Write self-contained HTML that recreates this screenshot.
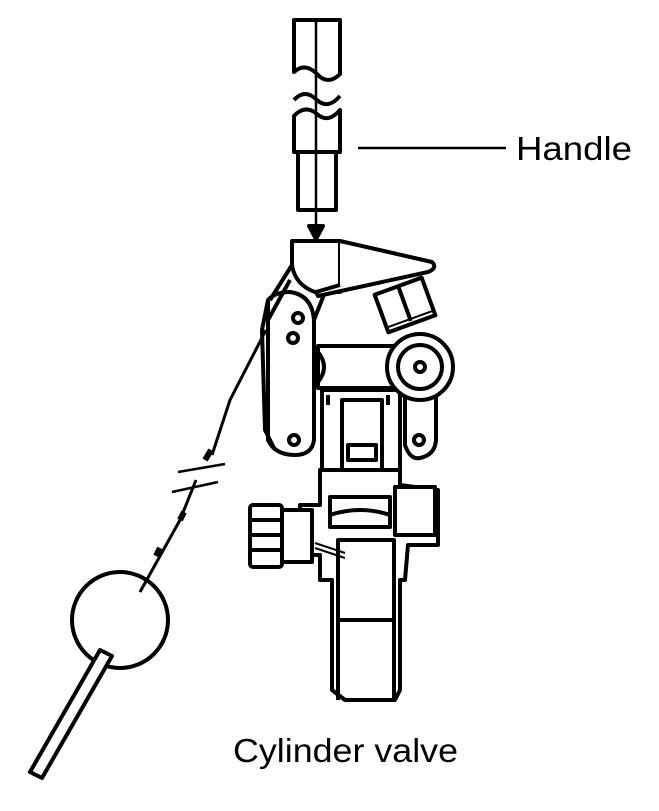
<!DOCTYPE html>
<html><head><style>
html,body{margin:0;padding:0;background:#fff;}
svg{display:block;}
text{font-family:"Liberation Sans",sans-serif;}
</style></head><body>
<svg width="659" height="811" viewBox="0 0 659 811" xmlns="http://www.w3.org/2000/svg">
<g fill="none" stroke="#000" stroke-width="4" stroke-linejoin="round">
<!-- handle -->
<path d="M294 20 V72 Q305 62 317 74 Q328 86 340 74 V20 Z" fill="#fff"/>
<path d="M294 116 Q305 104 317 114 Q328 124 340 110 V152 H294 Z" fill="#fff"/>
<path d="M294 100 Q305 88 317 100 Q328 110 340 96"/>
<rect x="298" y="152" width="38" height="58" fill="#fff"/>
<line x1="316" y1="18" x2="316" y2="228" stroke-width="2.5"/>
<path d="M309 226 L323 226 L316 239 Z" fill="#000"/>
<line x1="358" y1="148" x2="506" y2="148" stroke-width="2.5"/>
<!-- chain/cable -->
<path d="M266 330 L230 400 L212 455" stroke-width="3"/>
<path d="M196 480 L180 520 L140 592" stroke-width="3"/>
<path d="M178 472 L225 464 M172 492 L218 482" stroke-width="2.5"/>
<path d="M205 460 l6 -10 M180 520 l4 -8 M160 548 l-4 8" stroke-width="6"/>
<!-- ring + pin -->
<circle cx="120" cy="620" r="48"/>
<path d="M100 650 L30 772 L42 778 L112 656 Z" fill="#fff"/>
<!-- lower body -->
<path d="M320 470 L320 505 L300 505 L300 555 L320 555 L320 580 L332 580 L332 690 L345 700 L395 700 L400 690 L400 580 L405 580 L408 545 L438 545 L438 490 L400 485 L400 470 Z" fill="#fff"/>
<path d="M338 620 L338 700 M394 620 L394 700 M338 620 Q366 612 394 620"/>
<rect x="338" y="540" width="56" height="80" fill="#fff"/>
<rect x="250" y="505" width="32" height="62" rx="3" fill="#fff"/>
<line x1="252" y1="520" x2="282" y2="520"/><line x1="252" y1="535" x2="282" y2="535"/><line x1="252" y1="550" x2="282" y2="550"/>
<rect x="282" y="510" width="30" height="52" fill="#fff"/>
<path d="M315 543 L345 553 M315 548 L345 558" stroke-width="2"/>
<rect x="330" y="497" width="60" height="30" fill="#fff"/>
<path d="M330 515 Q360 505 390 515"/>
<rect x="395" y="487" width="40" height="48" fill="#fff"/>
<!-- mid body -->
<path d="M322 390 L322 470 L400 470 L400 390 Z" fill="#fff"/>
<rect x="342" y="400" width="40" height="70"/>
<rect x="348" y="445" width="28" height="15"/>
<path d="M328 395 v10 M388 395 v10"/>
<!-- left plate -->
<path d="M268 300 Q275 292 290 292 Q312 295 314 320 L314 440 Q312 455 295 455 Q275 455 268 440 Z" fill="#fff"/>
<path d="M268 300 L262 330 L265 430 L275 450"/>
<circle cx="298" cy="318" r="5"/><circle cx="293" cy="338" r="5"/><circle cx="294" cy="440" r="5"/>
<path d="M290 280 L268 320 M325 292 L314 320" />
<!-- right plate -->
<path d="M405 390 L405 445 Q410 460 420 458 Q435 455 436 440 L436 395"/>
<circle cx="419" cy="440" r="5"/>
<!-- horizontal cylinder -->
<rect x="318" y="346" width="84" height="42" fill="#fff"/>
<path d="M318 352 Q330 367 318 382"/>
<!-- wheel -->
<circle cx="420" cy="367" r="33" fill="#fff"/>
<circle cx="420" cy="367" r="22"/>
<circle cx="420" cy="367" r="5"/>
<!-- nut -->
<g transform="rotate(-20 405 305)">
<rect x="380" y="285" width="50" height="40" fill="#fff"/>
<line x1="405" y1="285" x2="405" y2="322"/>
<line x1="382" y1="320" x2="430" y2="320" stroke-width="2"/>
</g>
<!-- top block & lever -->
<path d="M292 241 L340 241 L340 292 L315 292 Q295 285 292 265 Z" fill="#fff"/>
<path d="M340 241 L432 262 Q438 268 428 272 L318 296 L316 292 L340 285" fill="#fff"/>
<path d="M292 265 L270 300"/>
</g>
<text x="516" y="160" font-size="33" textLength="116" lengthAdjust="spacingAndGlyphs">Handle</text>
<text x="233" y="762" font-size="33" textLength="225" lengthAdjust="spacingAndGlyphs">Cylinder valve</text>
</svg>
</body></html>
